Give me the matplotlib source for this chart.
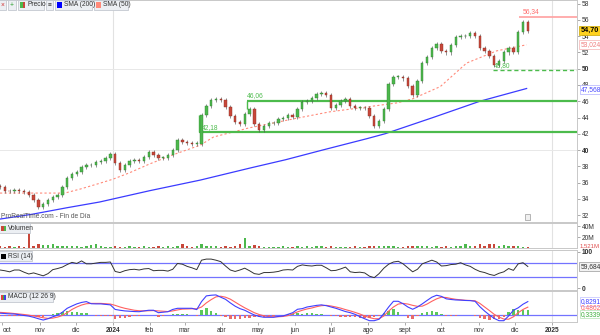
import numpy as np
import pandas as pd
import matplotlib
matplotlib.use('Agg')
import matplotlib.pyplot as plt
import matplotlib.dates as mdates
from matplotlib.patches import Rectangle

plt.rcParams['font.family'] = ['Liberation Sans', 'DejaVu Sans']

# closes every 4 calendar days from 2023-09-29
closes = [35.4, 35.0, 34.9, 35.1, 34.9, 34.8, 34.5, 33.8, 33.0, 33.4,
          33.8, 34.2, 34.5, 35.4, 36.5, 37.0, 37.3, 37.9, 38.1, 38.2,
          38.5, 38.7, 39.0, 39.5, 38.4, 37.6, 38.2, 38.6, 38.8, 38.6,
          39.1, 39.75, 39.4, 39.0, 39.0, 39.4, 40.0, 41.2, 41.0, 40.9,
          40.8, 40.8, 44.3, 45.4, 46.2, 46.3, 46.2, 45.3, 44.2, 43.4,
          43.2, 44.4, 45.0, 43.2, 42.5, 43.0, 43.3, 43.3, 43.8, 43.9,
          44.3, 44.1, 45.0, 45.9, 46.0, 46.4, 46.9, 47.0, 46.75, 45.2,
          45.5, 46.0, 46.3, 45.4, 45.2, 45.2, 45.15, 44.2, 43.0, 43.6,
          45.0, 48.1, 49.0, 49.0, 48.8, 47.9, 46.8, 48.5, 50.7, 51.5,
          52.6, 53.0, 52.2, 52.0, 52.9, 53.9, 54.0, 54.0, 54.4, 54.0,
          52.6, 52.2, 51.6, 50.5, 50.9, 52.0, 52.5, 52.1, 54.5, 55.8,
          54.7]
first_open = 35.6

# volume in millions
volumes = [3, 2, 3, 2, 3, 2, 42, 4, 8, 6,
           5, 7, 3, 3, 4, 3, 3, 2, 3, 5,
           7, 3, 2, 2, 3, 2, 2, 3, 2, 2,
           3, 2, 2, 3, 2, 3, 2, 4, 8, 3,
           2, 3, 8, 4, 3, 3, 2, 3, 2, 3,
           7, 18, 4, 6, 3, 2, 2, 2, 2, 3,
           2, 2, 3, 2, 3, 2, 4, 3, 2, 3,
           2, 2, 2, 2, 3, 2, 2, 3, 4, 3,
           3, 4, 3, 2, 2, 3, 3, 3, 4, 3,
           2, 3, 2, 3, 2, 3, 4, 8, 4, 3,
           8, 3, 7, 8, 3, 5, 3, 3, 3, 2,
           1.5]

rsi = [50, 48, 45, 50, 50, 44, 39, 42, 38, 34,
       40, 51, 54, 58, 65, 71, 68, 75, 67, 67,
       69, 71, 71, 72, 46, 43, 48, 51, 52, 50,
       53, 54, 48, 49, 49, 47, 52, 68, 66, 60,
       56, 51, 77, 80, 80, 77, 73, 61, 50, 46,
       50, 55, 48, 40, 38, 43, 43, 44, 46, 50,
       51, 50, 60, 64, 62, 61, 63, 63, 56, 48,
       49, 53, 58, 45, 43, 44, 42, 33, 29, 40,
       55, 66, 72, 74, 67, 56, 45, 52, 67, 72,
       77, 72, 61, 62, 65, 66, 70, 64, 60, 52,
       46, 43, 38, 35, 41, 45, 54, 49, 67, 70,
       59.7]

macd = [0.12, 0.1, 0.08, 0.07, 0.03, -0.02, -0.06, -0.13, -0.22, -0.3,
        -0.22, -0.1, 0.0, 0.18, 0.42, 0.56, 0.69, 0.78, 0.83, 0.7,
        0.69, 0.69, 0.66, 0.63, 0.35, 0.3, 0.26, 0.24, 0.22, 0.21,
        0.26, 0.3, 0.3, 0.15, 0.18, 0.21, 0.35, 0.42, 0.42, 0.42,
        0.42, 0.34, 0.83, 1.18, 1.22, 1.24, 1.1, 0.97, 0.75, 0.55,
        0.4, 0.3, 0.15, 0.01, -0.08, -0.13, -0.13, -0.13, -0.08, -0.05,
        0.05, 0.15, 0.36, 0.4, 0.5, 0.55, 0.6, 0.63, 0.58, 0.5,
        0.42, 0.32, 0.22, 0.15, 0.05, -0.09, -0.22, -0.34, -0.34, -0.25,
        0.1, 0.5, 0.85, 0.85, 0.7, 0.5, 0.36, 0.5, 0.69, 0.9,
        1.1, 1.22, 1.15, 1.0, 0.96, 0.93, 0.92, 0.9, 0.89, 0.85,
        0.52, 0.25, 0.01, -0.2, -0.34, -0.34, -0.05, 0.3, 0.45, 0.67,
        0.83]

signal = [0.17, 0.15, 0.13, 0.1, 0.07, 0.04, 0.0, -0.05, -0.1, -0.16,
          -0.2, -0.18, -0.12, -0.02, 0.15, 0.35, 0.5, 0.62, 0.7, 0.72,
          0.72, 0.72, 0.7, 0.68, 0.6, 0.5, 0.42, 0.36, 0.3, 0.27,
          0.26, 0.27, 0.28, 0.26, 0.24, 0.22, 0.26, 0.32, 0.37, 0.38,
          0.39, 0.39, 0.5, 0.75, 0.95, 1.12, 1.16, 1.1, 0.98, 0.8,
          0.62, 0.45, 0.3, 0.15, 0.04, -0.04, -0.09, -0.1, -0.1, -0.08,
          -0.03, 0.08, 0.2, 0.3, 0.38, 0.44, 0.52, 0.58, 0.6, 0.56,
          0.5, 0.43, 0.34, 0.26, 0.17, 0.07, -0.05, -0.15, -0.22, -0.22,
          -0.05, 0.25, 0.5, 0.68, 0.72, 0.68, 0.6, 0.54, 0.55, 0.68,
          0.85, 1.0, 1.1, 1.08, 1.02, 0.97, 0.94, 0.91, 0.9, 0.88,
          0.72, 0.5, 0.28, 0.05, -0.12, -0.24, -0.25, -0.1, 0.15, 0.35,
          0.49]

sma50_dates = ['2023-09-29', '2023-11-01', '2023-11-22', '2023-12-05', '2023-12-21',
               '2024-01-01', '2024-01-15', '2024-02-01', '2024-02-20', '2024-03-14',
               '2024-03-25', '2024-04-23', '2024-06-02', '2024-06-30', '2024-07-31',
               '2024-08-25', '2024-09-07', '2024-09-30', '2024-10-22', '2024-11-16',
               '2024-12-11']
sma50 = [34.7, 34.7, 34.7, 35.2, 35.9, 36.4, 37.2, 38.3, 39.4, 40.6,
         41.6, 42.7, 43.9, 44.7, 45.3, 45.8, 46.3, 47.8, 50.7, 52.2, 52.95]

sma200_dates = ['2023-09-29', '2023-10-26', '2023-11-24', '2023-12-21', '2024-02-01',
                '2024-03-14', '2024-04-25', '2024-05-24', '2024-06-24', '2024-07-31',
                '2024-08-15', '2024-09-24', '2024-11-02', '2024-12-11']
sma200 = [31.5, 32.1, 32.9, 33.6, 35.0, 36.3, 37.8, 38.8, 40.0, 41.4,
          42.0, 44.0, 46.0, 47.57]

month_dates = ['2023-10-01', '2023-11-01', '2023-12-01', '2024-01-01', '2024-02-01',
               '2024-03-01', '2024-04-01', '2024-05-01', '2024-06-01', '2024-07-01',
               '2024-08-01', '2024-09-01', '2024-10-01', '2024-11-01', '2024-12-01',
               '2025-01-01']
month_labels = ['oct', 'nov', 'dic', '2024', 'feb', 'mar', 'abr', 'may', 'jun',
                'jul', 'ago', 'sept', 'oct', 'nov', 'dic', '2025']

support_low, support_low_start = 42.18, '2024-03-13'
support_high, support_high_start = 46.06, '2024-04-22'
recent_low, recent_low_start = 49.80, '2024-11-13'
recent_high, recent_high_start = 56.34, '2024-12-05'

# ---- layout ----
W, H = 600, 335
fig = plt.figure(figsize=(6, 3.35), dpi=100)


def panel(top, bottom):
    return fig.add_axes([0, 1 - bottom / H, 577 / W, (bottom - top) / H])


ax_p = panel(0, 222)
ax_v = panel(223, 248)
ax_r = panel(250, 290)
ax_m = panel(291, 322)

num = lambda d: mdates.date2num(pd.Timestamp(d))
x = mdates.date2num(pd.date_range('2023-09-29', periods=len(closes), freq='4D'))
xmin, xmax = num('2023-09-29'), num('2025-01-22')

green, red = '#4cb84c', '#c8473a'
closes_a = np.array(closes)
opens_a = np.array([first_open] + closes[:-1])
up = closes_a >= opens_a
cols = np.where(up, green, red)
edges = np.where(up, '#347f34', '#8a2f25')

for ax in (ax_p, ax_v, ax_r, ax_m):
    ax.set_xlim(xmin, xmax)
    ax.yaxis.tick_right()
    ax.tick_params(axis='y', labelsize=4.8, length=2, width=0.5, pad=1.5,
                   color='#888888', labelcolor='#333333')
    ax.tick_params(axis='x', bottom=False, labelbottom=False)
    ax.spines['left'].set_visible(False)
    for s in ('top', 'bottom', 'right'):
        ax.spines[s].set_color('#c8c8c8')
        ax.spines[s].set_linewidth(0.7)
    for d in ('2024-01-01', '2025-01-01'):
        ax.axvline(num(d), color='#e2e2e2', lw=0.8, zorder=0)

# price panel
ax_p.set_ylim(31.14, 58.46)
ax_p.set_yticks(range(32, 59, 2))
for t in ax_p.get_yticklabels():
    if t.get_text() in ('40', '50'):
        t.set_fontweight('bold')
for lvl in (40, 50):
    ax_p.axhline(lvl, color='#e8e8e8', lw=0.7, zorder=0)

ax_p.plot(mdates.date2num(pd.to_datetime(sma200_dates)), sma200, color='#3b3bff', lw=0.9, zorder=2)
ax_p.plot(mdates.date2num(pd.to_datetime(sma50_dates)), sma50, color='#ff8a7a', lw=0.8,
          ls=(0, (2, 2)), zorder=2)

lv = '#4cbb4c'
ax_p.hlines(support_low, num(support_low_start), xmax, color=lv, lw=1.6, zorder=2)
ax_p.vlines(num(support_low_start), support_low, 44.3, color=lv, lw=1.0, zorder=2)
ax_p.text(num(support_low_start) + 2, support_low + 0.15, '42,18', color=lv, fontsize=4.8, va='bottom')
ax_p.hlines(support_high, num(support_high_start), xmax, color=lv, lw=1.6, zorder=2)
ax_p.vlines(num(support_high_start), 45.0, support_high, color=lv, lw=1.0, zorder=2)
ax_p.text(num(support_high_start), support_high + 0.2, '46,06', color=lv, fontsize=4.8, va='bottom')
ax_p.hlines(recent_low, num(recent_low_start), xmax, color=lv, lw=1.0, ls=(0, (3, 2)), zorder=2)
ax_p.text(num(recent_low_start) + 1, recent_low + 0.15, '49,80', color=lv, fontsize=4.8, va='bottom', zorder=1)
ax_p.hlines(recent_high, num(recent_high_start), xmax, color='#ffa0a0', lw=1.2, zorder=2)
ax_p.text(num(recent_high_start) + 3, recent_high + 0.25, '56,34', color='#ff6b6b', fontsize=4.8, va='bottom')

lo = np.minimum(opens_a, closes_a)
hi = np.maximum(opens_a, closes_a)
ax_p.vlines(x, lo - 0.25, hi + 0.25, color='#555555', lw=0.45, zorder=3)
ax_p.bar(x, np.maximum(hi - lo, 0.08), bottom=lo, width=2.0, color=cols,
         edgecolor=edges, lw=0.3, zorder=4)

ax_p.text(0.002, 0.01, 'ProRealTime.com - Fin de Día', transform=ax_p.transAxes,
          fontsize=4.8, color='#555555', va='bottom')

yt = ax_p.get_yaxis_transform()
ax_p.text(1.006, 54.70, '54,70', transform=yt, fontsize=5.2, fontweight='bold', va='center',
          bbox=dict(boxstyle='square,pad=0.15', fc='#ffd21f', ec='#c9a500', lw=0.5))
ax_p.text(1.006, 53.02, '53,024', transform=yt, fontsize=4.8, color='#f08080', va='center',
          bbox=dict(boxstyle='square,pad=0.15', fc='white', ec='#f4b0b0', lw=0.5))
ax_p.text(1.006, 47.45, '47,568', transform=yt, fontsize=4.8, color='#4b4bff', va='center',
          bbox=dict(boxstyle='square,pad=0.1', fc='white', ec='#b0b0ff', lw=0.5))

# volume panel
ax_v.set_ylim(0, 45.5)
ax_v.set_yticks([20, 40])
ax_v.set_yticklabels(['20M', '40M'])
ax_v.bar(x, volumes, width=2.0, color=cols, lw=0)
ax_v.text(1.004, 3.5, '1,521M', transform=ax_v.get_yaxis_transform(), fontsize=4.3,
          color='#e05050', va='center')

# RSI panel
ax_r.set_ylim(-5, 105)
ax_r.set_yticks([0, 100])
for t in ax_r.get_yticklabels():
    t.set_fontweight('bold')
for lvl in (70, 30):
    ax_r.axhline(lvl, color='#7373ff', lw=0.9, zorder=1)
ax_r.plot(x, rsi, color='#333333', lw=0.7, zorder=2)
ax_r.text(1.006, 59.7, '59,684', transform=ax_r.get_yaxis_transform(), fontsize=4.8,
          color='#333333', va='center',
          bbox=dict(boxstyle='square,pad=0.15', fc='#f2f2f2', ec='#999999', lw=0.5))

# MACD panel
ax_m.set_ylim(-0.42, 1.48)
ax_m.set_yticks([])
ax_m.axhline(0, color='#7373ff', lw=0.9, zorder=1)
hist = np.array(macd) - np.array(signal)
ax_m.bar(x, hist, width=2.0, color=np.where(hist >= 0, '#5cc85c', '#e86a6a'), lw=0, zorder=2)
ax_m.plot(x, signal, color='#ff6060', lw=0.8, zorder=3)
ax_m.plot(x, macd, color='#3f3fff', lw=0.8, zorder=4)
mt = ax_m.get_yaxis_transform()
ax_m.text(1.006, 0.83, '0,8291', transform=mt, fontsize=4.8, color='#3f3fff', va='center',
          bbox=dict(boxstyle='square,pad=0.1', fc='white', ec='#b0b0ff', lw=0.4))
ax_m.text(1.006, 0.49, '0,4862', transform=mt, fontsize=4.8, color='#ff6060', va='center')
ax_m.text(1.006, 0.06, '0,3339', transform=mt, fontsize=4.8, color='#3fae3f', va='center',
          bbox=dict(boxstyle='square,pad=0.1', fc='white', ec='#a0d8a0', lw=0.4))

ax_m.tick_params(axis='x', bottom=True, labelbottom=True, labelsize=4.8, length=2,
                 width=0.5, pad=1.5, color='#888888', labelcolor='#333333')
ax_m.set_xticks(mdates.date2num(pd.to_datetime(month_dates)))
ax_m.set_xticklabels(month_labels)
for i, t in enumerate(ax_m.get_xticklabels()):
    if t.get_text() in ('2024', '2025'):
        t.set_fontweight('bold')
    if i == 0:
        t.set_ha('left')


# legend buttons
def button(x0, x1, y0, y1, label, swatches, color='#333333'):
    fig.patches.append(Rectangle((x0 / W, 1 - y1 / H), (x1 - x0) / W, (y1 - y0) / H,
                                 transform=fig.transFigure, fc='#eceff3', ec='#c3c8d0', lw=0.6))
    sx = x0 + 2
    if swatches:
        sw = 5.0 / len(swatches)
        for c in swatches:
            fig.patches.append(Rectangle((sx / W, 1 - (y0 + 7.5) / H), sw / W, 5 / H,
                                         transform=fig.transFigure, fc=c, ec='none'))
            sx += sw
        sx += 2
    fig.text(sx / W, 1 - (y0 + y1) / 2 / H, label, fontsize=4.8, va='center', ha='left', color=color)


button(-1, 6, 0, 10, '×', [], color='#d03030')
button(8, 16, 0, 10, '+', [], color='#30a030')
button(18, 44, 0, 10, 'Precio', [green, red])
button(46, 53, 0, 10, '≡', [])
button(55, 92, 0, 10, 'SMA (200)', ['#0000ff'])
button(94, 128, 0, 10, 'SMA (50)', ['#ff8a7a'])
button(-1, 30, 223, 233, 'Volumen', [red, green])
button(-1, 32, 251, 261, 'RSI (14)', ['#000000'])
button(-1, 53, 292, 302, 'MACD (12 26 9)', ['#e04040', '#40b040', '#4040e0'])
fig.patches.append(Rectangle((525 / W, 1 - 220 / H), 5 / W, 6 / H, transform=fig.transFigure,
                             fc='#f0f0f0', ec='#9a9a9a', lw=0.5))

fig.savefig('out.png', dpi=100)
